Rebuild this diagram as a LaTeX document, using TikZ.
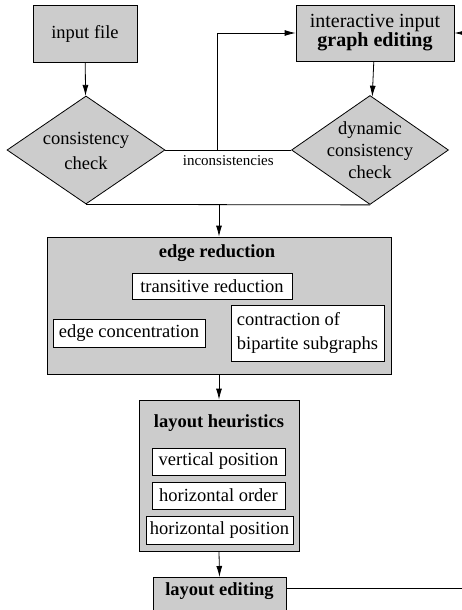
\documentclass[tikz,border=0pt]{standalone}
\usepackage{fontspec}
\setmainfont{Liberation Serif}
\usetikzlibrary{shapes.geometric,positioning,arrows.meta}

\newcommand{\checktext}[1]{\smash{\raisebox{-6pt}{\tabcolsep=0pt\begin{tabular}{c}#1\end{tabular}}}}

\begin{document}
\begin{tikzpicture}
         [x=1pt, y=-1pt, font=\fontsize{18.5}{22}\selectfont, line width=0.8pt,
          >={Latex[length=11pt,width=6pt]},
          grey box/.style={rectangle,draw,fill=black!20,inner sep=2pt},
          white box/.style={rectangle,draw,fill=white,inner sep=2pt},
          check/.style={diamond,draw,fill=black!20,inner sep=0pt}]
         \useasboundingbox (0,0) rectangle (462,610);
         \clip (0,0) rectangle (462,610);

         % input side
         \node[grey box, minimum width=104pt, minimum height=57pt] (file) at (85,34) {input file};
         \node[check, minimum width=158pt, minimum height=108pt] (cons) at (86,150)
              {\renewcommand{\arraystretch}{1.15}\checktext{consistency\\check}};

         % interactive side
         \node[grey box, align=center, minimum width=158pt, minimum height=56pt] (inter) at (375,33)
              {\fontsize{20}{22}\selectfont interactive input\\[-3pt]\fontsize{20}{22}\selectfont\textbf{graph editing}};
         \node[check, minimum width=157pt, minimum height=109pt] (dyn) at (370,150)
              {\checktext{dynamic\\consistency\\check}};

         % edge reduction
         \node[grey box, minimum width=344pt, minimum height=137pt] (red) at (219,305.5) {};
         \node (redt) at (217,253) {\textbf{edge reduction}};
         \node[white box, minimum width=160pt, minimum height=26pt] (trans) at (212,286) {transitive reduction};
         \node[white box, minimum width=152pt, minimum height=28pt] (conc) at (129,333) {edge concentration};
         \node[white box, align=left, minimum width=153pt, minimum height=56pt] (contr) at (307.5,333)
              {contraction of\\[2pt]bipartite subgraphs};

         % layout heuristics
         \node[grey box, minimum width=160pt, minimum height=151pt] (heur) at (219,475.5) {};
         \node (heurt) at (219,423) {\textbf{layout heuristics}};
         \node[white box, minimum width=133pt, minimum height=27pt] (vert) at (218.5,461.5) {vertical position};
         \node[white box, minimum width=133pt, minimum height=27pt] (hord) at (218.5,495.5) {horizontal order};
         \node[white box, minimum width=147pt, minimum height=28pt] (hpos) at (219.5,530) {horizontal position};

         % layout editing
         \node[grey box, anchor=north, minimum width=133pt, text depth=24pt, inner ysep=5pt] (edit) at (219.5,577)
              {\textbf{layout editing}};

         \coordinate (junc) at (217,150);
         \coordinate (inR) at (462,33);
         \coordinate (outR) at (462,588);

         \draw[->] (file) -- (cons);
         \draw[->] (inter) -- (dyn);
         \draw (cons.east) -- node[below=2pt, font=\fontsize{15}{18}\selectfont] {inconsistencies} (dyn.west);
         \draw[->] (junc) |- (inter.west);
         \draw[->] (inR) -- (inter.east);
         \draw (cons.south) -- (dyn.south);
         \draw[->] (cons.south -| red.north) -- (red.north);
         \draw[->] (red) -- (heur);
         \draw[->] (heur.south) -- (edit.north);
         \draw (edit.east |- outR) -- (outR);
      \end{tikzpicture}
\end{document}
